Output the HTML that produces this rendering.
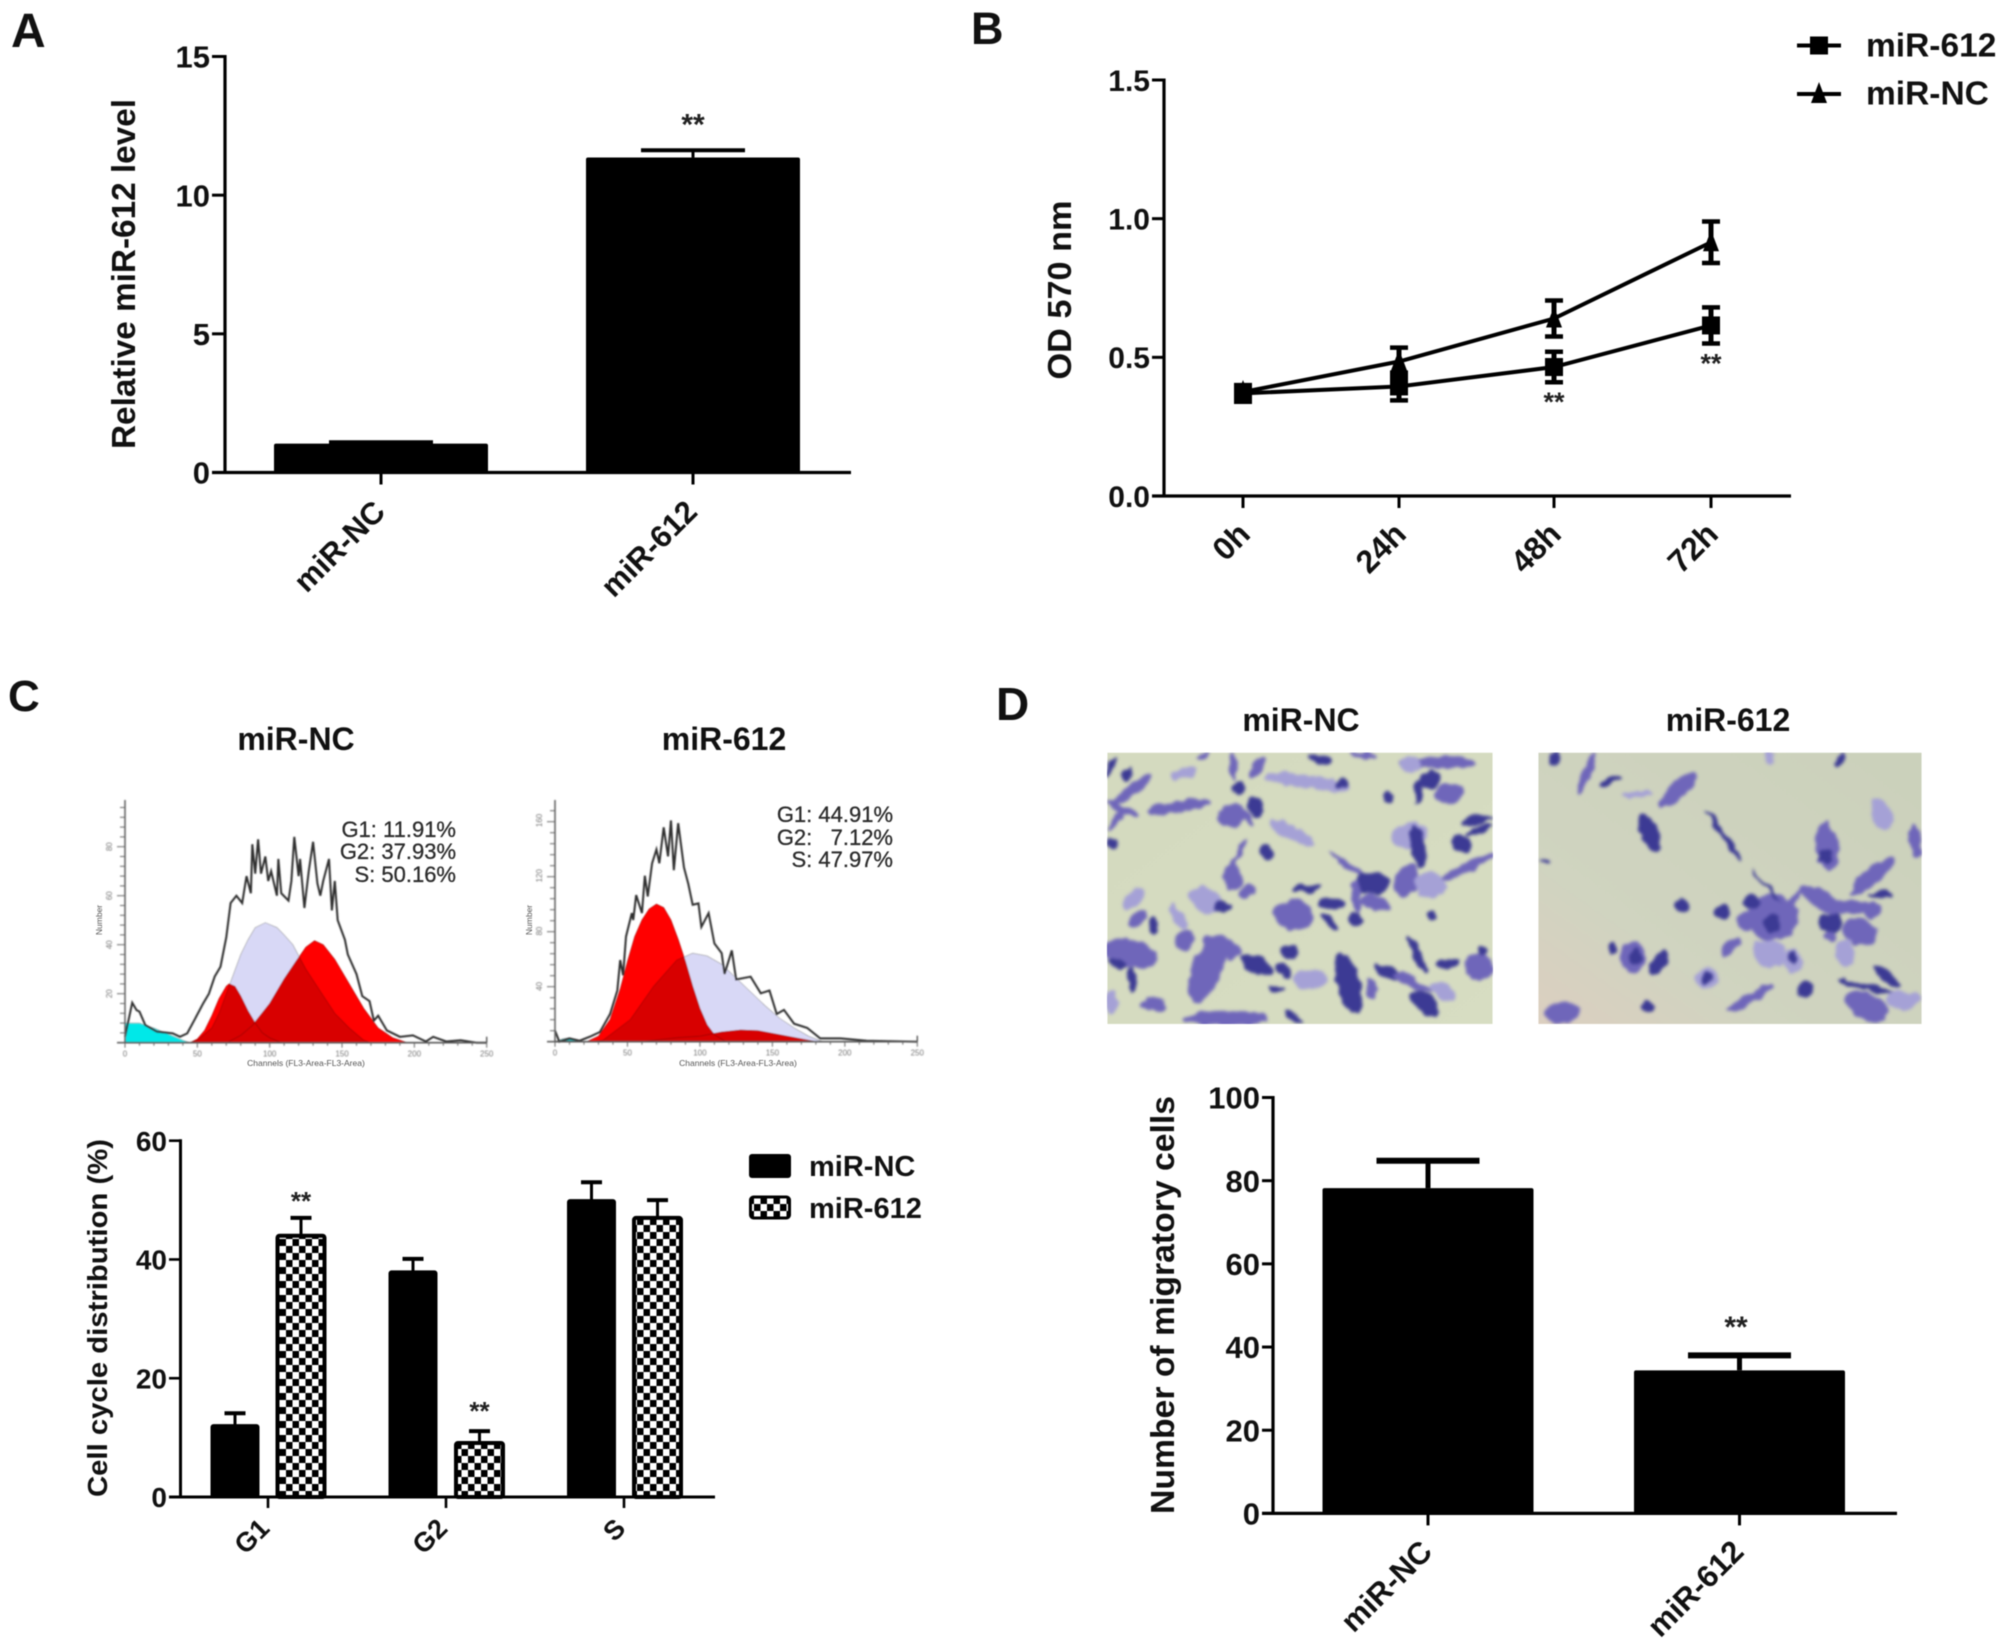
<!DOCTYPE html>
<html lang="en">
<head>
<meta charset="utf-8">
<title>miR-612 figure</title>
<style>
html,body{margin:0;padding:0;background:#fff;}
#figure{display:block;width:2008px;height:1646px;font-family:"Liberation Sans",sans-serif;filter:blur(0.45px);}
text{font-family:"Liberation Sans",sans-serif;}
.b{font-weight:bold;fill:#111;}
</style>
</head>
<body>
<svg id="figure" xmlns="http://www.w3.org/2000/svg" width="2008" height="1646" viewBox="0 0 2008 1646">
<defs>
<pattern id="checker" width="13" height="14" patternUnits="userSpaceOnUse">
<rect width="13" height="14" fill="#fff"/>
<rect width="6.5" height="7" fill="#000"/>
<rect x="6.5" y="7" width="6.5" height="7" fill="#000"/>
</pattern>
<filter id="photoBlur" x="-5%" y="-5%" width="110%" height="110%" color-interpolation-filters="sRGB">
<feTurbulence type="fractalNoise" baseFrequency="0.028" numOctaves="2" seed="7" result="noise"/>
<feDisplacementMap in="SourceGraphic" in2="noise" scale="26" xChannelSelector="R" yChannelSelector="G" result="rough"/>
<feGaussianBlur in="rough" stdDeviation="4.5"/>
</filter>
<filter id="flowBlur" x="-5%" y="-5%" width="110%" height="110%"><feGaussianBlur stdDeviation="0.5"/></filter>
<clipPath id="clip1"><rect x="52" y="38" width="1156" height="814"/></clipPath>
<clipPath id="clip2"><rect x="55" y="38" width="1150" height="814"/></clipPath>
<linearGradient id="bg2" x1="1" y1="0" x2="0" y2="1">
<stop offset="0" stop-color="#cbd1bb"/><stop offset="0.7" stop-color="#d0d4c0"/><stop offset="1" stop-color="#dccfc0"/>
</linearGradient>
<linearGradient id="bg1" x1="0" y1="0" x2="1" y2="1">
<stop offset="0" stop-color="#d4dabf"/><stop offset="1" stop-color="#d7ddc2"/>
</linearGradient>
</defs>

<!-- panel letters -->
<text class="b" x="11" y="47" font-size="48">A</text>
<text class="b" x="971" y="44" font-size="45">B</text>
<text class="b" x="8" y="711" font-size="44">C</text>
<text class="b" x="996" y="720" font-size="46">D</text>

<!-- axis titles -->
<text class="b" transform="translate(135,274) rotate(-90)" text-anchor="middle" font-size="33" textLength="350" lengthAdjust="spacingAndGlyphs">Relative miR-612 level</text>
<text class="b" transform="translate(1071,290) rotate(-90)" text-anchor="middle" font-size="33" textLength="179" lengthAdjust="spacingAndGlyphs">OD 570 nm</text>
<text class="b" transform="translate(107,1318) rotate(-90)" text-anchor="middle" font-size="28" textLength="358" lengthAdjust="spacingAndGlyphs">Cell cycle distribution (%)</text>
<text class="b" transform="translate(1174,1305) rotate(-90)" text-anchor="middle" font-size="33" textLength="418" lengthAdjust="spacingAndGlyphs">Number of migratory cells</text>

<!-- sub titles -->
<text class="b" x="296" y="750" text-anchor="middle" font-size="32">miR-NC</text>
<text class="b" x="724" y="750" text-anchor="middle" font-size="32">miR-612</text>
<text class="b" x="1301" y="731" text-anchor="middle" font-size="32">miR-NC</text>
<text class="b" x="1728" y="731" text-anchor="middle" font-size="32">miR-612</text>

<!-- flow plot annotations -->
<g font-size="22" fill="#2c2c2c" stroke="#2c2c2c" stroke-width="0.3" text-anchor="end">
<text x="456" y="837">G1: 11.91%</text>
<text x="456" y="859">G2: 37.93%</text>
<text x="456" y="882">S: 50.16%</text>
</g>
<g font-size="22" fill="#2c2c2c" stroke="#2c2c2c" stroke-width="0.3" text-anchor="end">
<text x="893" y="822">G1: 44.91%</text>
<text x="893" y="845">G2: &#160;&#160;7.12%</text>
<text x="893" y="867">S: 47.97%</text>
</g>
<g font-size="8.5" fill="#555">
<text x="306" y="1066" text-anchor="middle">Channels (FL3-Area-FL3-Area)</text>
<text x="738" y="1066" text-anchor="middle">Channels (FL3-Area-FL3-Area)</text>
<text transform="translate(102,920) rotate(-90)" text-anchor="middle">Number</text>
<text transform="translate(532,920) rotate(-90)" text-anchor="middle">Number</text>
</g>

<g id="layer"></g>
</svg>

<script>
// ---------- Panel A ----------
const aCategories = ['miR-NC', 'miR-612'];
const aValues = [1.04, 11.36];
const aErrors = [0.05, 0.26];
const aTicks = [0, 5, 10, 15];

// ---------- Panel B ----------
const bTimes = ['0h', '24h', '48h', '72h'];
const bMir612 = [0.37, 0.395, 0.465, 0.615];
const bMir612Err = [0.03, 0.05, 0.055, 0.065];
const bMirNC = [0.375, 0.485, 0.64, 0.915];
const bMirNCErr = [0.02, 0.05, 0.065, 0.075];
const bTicks = ['0.0', '0.5', '1.0', '1.5'];

// ---------- Panel C bars ----------
const cCategories = ['G1', 'G2', 'S'];
const cMirNC = [12.1, 38, 50];
const cMirNCErr = [2, 2.1, 3];
const cMir612 = [44, 9.1, 47];
const cMir612Err = [3, 2, 3];
const cTicks = [0, 20, 40, 60];

// ---------- Panel D bars ----------
const dCategories = ['miR-NC', 'miR-612'];
const dValues = [78.2, 34.4];
const dErrors = [6.6, 3.6];
const dTicks = [0, 20, 40, 60, 80, 100];

// ---------- Flow histogram, miR-NC ----------
const flowNCChannels = [0,5,8,10,14,22,33,38,43,48,54,58,62,66,70,73,77,81,84,87,88,90,92,94,97,99,101,105,106,108,113,115,117,120,121,124,127,130,133,135,137,141,143,145,147,152,154,160,164,169,172,175,181,190,199,208,213,222,232,243,250];
const flowNCCounts = [2.4,16.3,13.3,12.7,7.2,4.5,3.8,2.4,3.8,9.3,16,20,27,31,43,57,60,57,68,61,81,69,83,69,76,66,70,60,75,61,58,66,84,68,75,55,70,82,65,60,66,75,54,66,50,42,36,28,19,17,9,11,5,2.4,3,0.5,2.4,0.5,1,0,0];
const flowNCG1Ch = [45,50,55,60,65,70,72,76,80,85,90,95,100,108];
const flowNCG1 = [0,1.5,5,11,18,23,24,23,19,13,8,4,2,0];
const flowNCSCh = [45,50,60,65,70,75,80,85,90,97,105,110,116,125,135,145,155,165,170];
const flowNCS = [0,1,6,12,20,28,36,42,47,49,47,44,40,30,21,12,6,1,0];
const flowNCG2Ch = [72,80,88,92,100,110,118,125,131,137,145,155,165,175,185,195];
const flowNCG2 = [0.5,3,7,10,16,26,33,39,41.6,40,34,24,14,6,2,0];
const flowNCDebrisCh = [0,10,20,30,40,45];
const flowNCDebris = [8,8,6,3.5,1,0];
const flowNCYLabels = [20,40,60,80];

// ---------- Flow histogram, miR-612 ----------
const flow612Channels = [0,3,10,17,24,31,38,43,45,47,49,53,54,56,60,62,64,67,70,72,75,78,80,82,85,89,92,95,99,101,106,110,115,117,122,125,135,142,148,153,158,165,174,183,197,215,250];
const flow612Counts = [8,0,2.4,0.7,3.6,7,20,37,59,48,76,93,88,106,93,120,105,129,139,129,155,134,160,124,158,126,114,99,100,83,93,71,64,49,66,45,47,35,37,20,23,13,10,2.4,2.4,0.7,0];
const flow612G1Ch = [22,30,38,45,50,55,60,65,70,75,80,85,90,95,100,105,110,118];
const flow612G1 = [0,4,16,38,58,76,88,96,99.5,97,88,74,58,40,24,12,5,0];
const flow612SCh = [25,33,52,68,84,95,105,115,125,135,145,155,165,175,185];
const flow612S = [0,1,16,40,59,64,62,56,46,36,26,17,10,4,0];
const flow612G2Ch = [60,85,100,115,128,140,150,165,180];
const flow612G2 = [0,3,4,7,8.4,8,6,3,0];
const flow612DebrisCh = [0,5,10,15,20];
const flow612Debris = [0,2,3,1,0];
const flow612YLabels = [40,80,120,160];

// ---------- Micrograph illustration shapes: [cx, cy, rx, ry, angle, tone] ----------
const cellsNC = [[125,150,75,13,-38,'n'],[265,200,90,14,-10,'n'],[100,210,50,10,25,'n'],[80,240,40,10,-55,'n'],[280,100,40,15,-15,'l'],[110,105,15,18,0,'d'],[430,80,40,10,90,'n'],[500,85,35,14,-55,'n'],[445,145,20,15,0,'d'],[495,200,22,27,0,'d'],[425,230,40,30,-20,'n'],[465,225,40,8,55,'n'],[650,125,120,18,8,'l'],[755,130,18,12,0,'d'],[690,58,35,12,15,'d'],[895,170,18,18,0,'d'],[1020,120,30,25,0,'d'],[985,155,12,30,0,'d'],[1080,160,45,25,-15,'n'],[1040,68,110,15,0,'n'],[960,70,30,22,0,'l'],[1160,240,45,14,-10,'d'],[1170,270,40,10,-15,'d'],[1115,310,30,25,20,'d'],[960,285,50,35,-10,'l'],[985,320,60,20,80,'d'],[950,420,50,28,-70,'n'],[1020,435,45,35,0,'l'],[1135,380,80,14,-25,'n'],[530,340,20,22,0,'d'],[605,280,70,20,25,'l'],[780,380,70,7,35,'n'],[845,430,50,30,0,'d'],[860,490,45,20,15,'n'],[800,470,50,12,80,'n'],[650,445,40,10,-5,'d'],[725,490,40,15,0,'d'],[610,525,55,40,0,'n'],[720,545,30,12,55,'d'],[795,535,22,15,30,'d'],[1025,525,15,17,0,'d'],[430,410,35,25,80,'n'],[470,455,30,15,-15,'n'],[345,480,50,30,25,'l'],[400,500,25,12,0,'d'],[440,350,55,6,-60,'n'],[130,480,40,18,-40,'l'],[145,535,35,14,-40,'n'],[190,555,25,12,90,'d'],[265,530,40,15,60,'l'],[285,600,30,25,-30,'n'],[120,640,80,35,15,'n'],[80,670,30,10,20,'d'],[125,720,35,12,90,'d'],[350,690,100,38,-70,'n'],[395,620,60,25,20,'n'],[500,675,50,22,25,'d'],[600,635,25,15,0,'d'],[580,690,30,15,50,'d'],[660,720,50,25,0,'l'],[560,745,20,10,15,'d'],[775,730,90,30,75,'d'],[845,745,30,12,80,'n'],[890,695,40,15,25,'d'],[965,725,60,12,25,'n'],[980,640,60,10,65,'d'],[1075,670,35,15,-15,'d'],[1165,680,40,35,0,'n'],[1180,630,15,15,30,'d'],[1060,755,40,20,30,'l'],[1005,790,50,25,40,'d'],[65,785,35,15,90,'l'],[190,795,40,15,5,'n'],[410,835,120,20,0,'n'],[610,830,30,7,40,'d'],[60,80,30,8,-60,'d'],[65,310,15,15,0,'d'],[340,45,20,8,-20,'n'],[820,45,40,7,10,'n']];
const cells612 = [[105,55,15,20,30,'d'],[200,100,65,12,-70,'n'],[270,125,32,9,-25,'d'],[350,162,42,10,-5,'l'],[475,150,70,22,-45,'n'],[748,55,20,12,90,'l'],[960,60,22,10,-70,'d'],[390,280,60,25,70,'d'],[610,285,85,8,55,'d'],[920,320,70,30,85,'n'],[915,350,20,18,0,'d'],[1085,220,45,28,75,'l'],[1185,305,50,14,85,'n'],[1055,410,80,20,-40,'n'],[905,480,70,25,30,'n'],[990,500,60,15,5,'n'],[1085,465,35,8,-5,'d'],[1060,510,25,18,-30,'n'],[930,550,35,25,0,'d'],[930,590,20,12,0,'n'],[1020,575,50,35,10,'n'],[975,640,40,25,80,'l'],[760,530,70,60,0,'n'],[755,555,25,25,0,'d'],[680,545,30,25,0,'n'],[695,487,25,17,0,'d'],[820,480,50,7,-45,'n'],[740,440,65,4,50,'d'],[750,640,50,35,30,'l'],[820,665,28,30,0,'l'],[820,655,15,15,0,'d'],[605,515,22,20,0,'d'],[485,497,22,18,0,'d'],[635,620,35,14,-40,'n'],[340,650,35,40,0,'n'],[345,650,18,20,0,'d'],[278,625,10,15,0,'d'],[415,670,38,20,-60,'d'],[560,712,30,25,0,'l'],[560,712,14,14,0,'d'],[855,748,20,18,0,'d'],[690,775,75,12,-30,'n'],[1100,710,45,14,40,'d'],[1040,740,85,8,15,'d'],[1040,800,65,35,30,'n'],[1150,780,50,25,-5,'l'],[380,800,20,14,15,'d'],[125,820,50,30,-5,'n'],[75,366,20,6,0,'d']];

const NS = 'http://www.w3.org/2000/svg';
const layer = document.getElementById('layer');

function mk(tag, attrs, name, parent) {
  const el = document.createElementNS(NS, tag);
  for (const k in attrs) el.setAttribute(k, attrs[k]);
  
  
  (parent || layer).appendChild(el);
  return el;
}
function txt(str, attrs, name, parent) {
  const el = mk('text', attrs, name, parent);
  el.textContent = str;
  return el;
}
function linear(d0, d1, r0, r1) {
  return function (v) { return r0 + (v - d0) * (r1 - r0) / (d1 - d0); };
}
function axisLines(o) {
  mk('line', {x1: o.x0, y1: o.yTop - 1.5, x2: o.x0, y2: o.yBase + 1.5, stroke: '#000', 'stroke-width': o.w}, o.id + '-y-axis');
  mk('line', {x1: o.tickLeft, y1: o.yBase, x2: o.xEnd, y2: o.yBase, stroke: '#000', 'stroke-width': o.w}, o.id + '-x-axis');
}
function yTicks(id, ticks, y, x0, tickLeft, size, w) {
  ticks.forEach(function (t) {
    const v = parseFloat(t);
    mk('line', {x1: tickLeft, y1: y(v), x2: x0, y2: y(v), stroke: '#000', 'stroke-width': w}, id + '-y-tick');
    txt(String(t), {x: tickLeft - 2, y: y(v) + size * 0.36, 'text-anchor': 'end', 'font-size': size, 'font-weight': 'bold', fill: '#111'}, id + '-y-tick-label');
  });
}
function xTick(id, label, x, yBase, tickLen, size, w, dx, dy) {
  mk('line', {x1: x, y1: yBase, x2: x, y2: yBase + tickLen, stroke: '#000', 'stroke-width': w}, id + '-x-tick');
  const lx = x + dx, ly = yBase + dy;
  txt(label, {x: lx, y: ly, transform: 'rotate(-45 ' + lx + ' ' + ly + ')', 'text-anchor': 'end', 'font-size': size, 'font-weight': 'bold', fill: '#111'}, id + '-x-tick-label');
}
function errBar(id, x, yVal, yTop, capW, w) {
  mk('line', {x1: x, y1: yVal, x2: x, y2: yTop, stroke: '#000', 'stroke-width': w}, id + '-error-stem');
  mk('line', {x1: x - capW / 2, y1: yTop, x2: x + capW / 2, y2: yTop, stroke: '#000', 'stroke-width': w + 1}, id + '-error-cap');
}
function stars(id, x, yCenter, size) {
  txt('**', {x: x, y: yCenter + size * 0.46, 'text-anchor': 'middle', 'font-size': size, 'font-weight': 'bold', fill: '#222'}, id);
}

// ===== Panel A =====
(function () {
  const y = linear(0, 15, 472.5, 56.5);
  const centers = [381, 693];
  const barW = 214;
  axisLines({id: 'a', x0: 225, yTop: y(15), yBase: y(0), tickLeft: 212, xEnd: 851, w: 3.2});
  yTicks('a', aTicks, y, 225, 212, 31, 3);
  aCategories.forEach(function (c, i) {
    errBar('a-' + c, centers[i], y(aValues[i]), y(aValues[i] + aErrors[i]), 104, 3);
    mk('rect', {x: centers[i] - barW / 2, y: y(aValues[i]), width: barW, height: y(0) - y(aValues[i]), rx: 2, fill: '#000'}, 'a-bar-' + c);
    xTick('a', c, centers[i], y(0), 12, 31, 3, 6, 41);
  });
  stars('a-significance', centers[1], 120.5, 30);
})();

// ===== Panel B =====
(function () {
  const y = linear(0, 1.5, 496, 80);
  const xs = [1243, 1399, 1554, 1711];
  axisLines({id: 'b', x0: 1164, yTop: y(1.5), yBase: y(0), tickLeft: 1152, xEnd: 1791, w: 3.2});
  yTicks('b', bTicks, y, 1164, 1152, 30, 3);
  bTimes.forEach(function (t, i) { xTick('b', t, xs[i], y(0), 12, 32, 3, 9, 40); });
  function series(id, vals, errs, marker) {
    mk('polyline', {points: vals.map(function (v, i) { return xs[i] + ',' + y(v); }).join(' '), fill: 'none', stroke: '#000', 'stroke-width': 4}, id + '-line');
    vals.forEach(function (v, i) {
      const yt = y(v + errs[i]), yb = y(v - errs[i]);
      mk('line', {x1: xs[i], y1: yt, x2: xs[i], y2: yb, stroke: '#000', 'stroke-width': 5}, id + '-error-bar');
      mk('line', {x1: xs[i] - 9, y1: yt, x2: xs[i] + 9, y2: yt, stroke: '#000', 'stroke-width': 4.5}, id + '-error-cap');
      mk('line', {x1: xs[i] - 9, y1: yb, x2: xs[i] + 9, y2: yb, stroke: '#000', 'stroke-width': 4.5}, id + '-error-cap');
      marker(xs[i], y(v), id);
    });
  }
  function tri(x, yy, id) {
    mk('polygon', {points: (x - 8) + ',' + (yy + 9) + ' ' + (x + 8) + ',' + (yy + 9) + ' ' + x + ',' + (yy - 12), fill: '#000'}, id + '-marker');
  }
  function sq(x, yy, id) {
    mk('rect', {x: x - 9, y: yy - 9, width: 18, height: 18, fill: '#000'}, id + '-marker');
  }
  series('mir-nc', bMirNC, bMirNCErr, tri);
  series('mir-612', bMir612, bMir612Err, sq);
  stars('b-significance-48h', xs[2], 398.5, 27);
  stars('b-significance-72h', xs[3], 360, 27);
  // legend
  mk('line', {x1: 1797, y1: 45.5, x2: 1841, y2: 45.5, stroke: '#000', 'stroke-width': 4}, 'b-legend-line-mir-612');
  sq(1819, 45.5, 'b-legend');
  txt('miR-612', {x: 1866, y: 56.5, 'font-size': 33.5, 'font-weight': 'bold', fill: '#111'}, 'b-legend-label-mir-612');
  mk('line', {x1: 1797, y1: 94, x2: 1841, y2: 94, stroke: '#000', 'stroke-width': 4}, 'b-legend-line-mir-nc');
  tri(1819, 94, 'b-legend');
  txt('miR-NC', {x: 1866, y: 104.5, 'font-size': 33.5, 'font-weight': 'bold', fill: '#111'}, 'b-legend-label-mir-nc');
})();

// ===== Panel C bars =====
(function () {
  const y = linear(0, 60, 1497, 1140.7);
  const ncX = [235, 413, 591.5];
  const m612X = [301, 479.5, 657.5];
  const tickX = [268, 446, 624];
  const barW = 47;
  axisLines({id: 'c', x0: 180.5, yTop: y(60), yBase: y(0), tickLeft: 169, xEnd: 715, w: 3});
  yTicks('c', cTicks, y, 180.5, 169, 28, 2.6);
  cCategories.forEach(function (c, i) {
    errBar('c-nc-' + c, ncX[i], y(cMirNC[i]), y(cMirNC[i] + cMirNCErr[i]), 21, 3);
    mk('rect', {x: ncX[i] - barW / 2, y: y(cMirNC[i]), width: barW, height: y(0) - y(cMirNC[i]), rx: 2, fill: '#000', stroke: '#000', 'stroke-width': 2}, 'c-bar-mir-nc-' + c);
    errBar('c-612-' + c, m612X[i], y(cMir612[i]), y(cMir612[i] + cMir612Err[i]), 21, 3);
    mk('rect', {x: m612X[i] - barW / 2, y: y(cMir612[i]), width: barW, height: y(0) - y(cMir612[i]), rx: 2, fill: 'url(#checker)', stroke: '#000', 'stroke-width': 4}, 'c-bar-mir-612-' + c);
    xTick('c', c, tickX[i], y(0), 11, 27, 2.6, 3, 33);
  });
  stars('c-significance-g1', m612X[0], 1198, 26);
  stars('c-significance-g2', m612X[1], 1408, 26);
  mk('rect', {x: 749, y: 1154, width: 42, height: 24, rx: 3, fill: '#000'}, 'c-legend-swatch-mir-nc');
  txt('miR-NC', {x: 809, y: 1176, 'font-size': 29, 'font-weight': 'bold', fill: '#111'}, 'c-legend-label-mir-nc');
  mk('rect', {x: 750.5, y: 1197, width: 39, height: 21, rx: 3, fill: 'url(#checker)', stroke: '#000', 'stroke-width': 3}, 'c-legend-swatch-mir-612');
  txt('miR-612', {x: 809, y: 1218, 'font-size': 29, 'font-weight': 'bold', fill: '#111'}, 'c-legend-label-mir-612');
})();

// ===== Panel D bars =====
(function () {
  const y = linear(0, 100, 1513.4, 1097.5);
  const centers = [1428, 1739.5];
  const barW = 211;
  axisLines({id: 'd', x0: 1273, yTop: y(100), yBase: y(0), tickLeft: 1262, xEnd: 1897, w: 3.2});
  yTicks('d', dTicks, y, 1273, 1262, 31, 3);
  dCategories.forEach(function (c, i) {
    errBar('d-' + c, centers[i], y(dValues[i]), y(dValues[i] + dErrors[i]), 103, 5);
    mk('rect', {x: centers[i] - barW / 2, y: y(dValues[i]), width: barW, height: y(0) - y(dValues[i]), rx: 2, fill: '#000'}, 'd-bar-' + c);
    xTick('d', c, centers[i], y(0), 12, 31, 3, 6, 40);
  });
  stars('d-significance', 1736, 1323, 30);
})();

// ===== Flow histograms =====
function drawFlow(o) {
  const g = mk('g', {filter: 'url(#flowBlur)'}, o.id + '-histogram');
  const x = linear(0, 250, o.x0, o.x1);
  const y = linear(0, 100, o.yBase, o.yBase - o.pxPerUnit * 100);
  function area(ch, vals, fill, name, blend) {
    const pts = ch.map(function (c, i) { return x(c) + ',' + y(vals[i]); });
    pts.unshift(x(ch[0]) + ',' + y(0));
    pts.push(x(ch[ch.length - 1]) + ',' + y(0));
    const el = mk('polygon', {points: pts.join(' '), fill: fill, stroke: fill === '#ff0000' ? '#aa0000' : '#999', 'stroke-width': 0.6}, name, g);
    if (blend) el.style.mixBlendMode = 'multiply';
  }
  area(o.debrisCh, o.debris, o.debrisColor, o.id + '-debris-area');
  area(o.sCh, o.s, '#d8d8f6', o.id + '-s-phase-area');
  area(o.g2Ch, o.g2, '#ff0000', o.id + '-g2-area', true);
  area(o.g1Ch, o.g1, '#ff0000', o.id + '-g1-area', true);
  mk('polyline', {points: o.channels.map(function (c, i) { return x(c) + ',' + y(o.counts[i]); }).join(' '), fill: 'none', stroke: '#2e2e2e', 'stroke-width': 2}, o.id + '-outline', g);
  // axes
  mk('line', {x1: o.x0, y1: o.yTop, x2: o.x0, y2: o.yBase, stroke: '#666', 'stroke-width': 1.6}, o.id + '-y-axis', g);
  mk('line', {x1: o.x0 - 8, y1: o.yBase, x2: o.x1, y2: o.yBase, stroke: '#555', 'stroke-width': 1.6}, o.id + '-x-axis', g);
  mk('line', {x1: o.x1, y1: o.yBase - 6, x2: o.x1, y2: o.yBase, stroke: '#555', 'stroke-width': 1.4}, o.id + '-x-axis-end', g);
  const xLabels = [0, 50, 100, 150, 200, 250];
  for (let c = 0; c <= 250; c += 10) {
    mk('line', {x1: x(c), y1: o.yBase, x2: x(c), y2: o.yBase + (c % 50 === 0 ? 5 : 3), stroke: '#666', 'stroke-width': 1}, o.id + '-x-tick', g);
  }
  xLabels.forEach(function (c) {
    txt(String(c), {x: x(c), y: o.yBase + 14, 'text-anchor': 'middle', 'font-size': 8, fill: '#777'}, o.id + '-x-tick-label', g);
  });
  for (let yy = o.yBase, n = 0; yy >= o.yTop; yy -= o.minorPx, n++) {
    mk('line', {x1: o.x0 - (n % 5 === 0 ? 8 : 5), y1: yy, x2: o.x0, y2: yy, stroke: '#666', 'stroke-width': 1}, o.id + '-y-tick', g);
  }
  o.yLabels.forEach(function (v) {
    const yy = y(v);
    txt(String(v), {x: o.x0 - 13, y: yy, transform: 'rotate(-90 ' + (o.x0 - 13) + ' ' + yy + ')', 'text-anchor': 'middle', 'font-size': 8, fill: '#777'}, o.id + '-y-tick-label', g);
  });
}
drawFlow({id: 'flow-mir-nc', x0: 125, x1: 486.7, yBase: 1042.7, yTop: 800, pxPerUnit: 2.45, minorPx: 9.8,
  channels: flowNCChannels, counts: flowNCCounts, g1Ch: flowNCG1Ch, g1: flowNCG1, sCh: flowNCSCh, s: flowNCS,
  g2Ch: flowNCG2Ch, g2: flowNCG2, debrisCh: flowNCDebrisCh, debris: flowNCDebris, debrisColor: '#00e8e8', yLabels: flowNCYLabels});
drawFlow({id: 'flow-mir-612', x0: 555, x1: 917.3, yBase: 1041.7, yTop: 800, pxPerUnit: 1.383, minorPx: 11,
  channels: flow612Channels, counts: flow612Counts, g1Ch: flow612G1Ch, g1: flow612G1, sCh: flow612SCh, s: flow612S,
  g2Ch: flow612G2Ch, g2: flow612G2, debrisCh: flow612DebrisCh, debris: flow612Debris, debrisColor: '#22b8b8', yLabels: flow612YLabels});

// ===== Micrographs =====
function drawPhoto(id, ox, oy, rectX, rectY, clip, bg, cells) {
  const g = mk('g', {transform: 'translate(' + ox + ',' + oy + ') scale(0.3333)', 'clip-path': 'url(#' + clip + ')'}, id);
  mk('rect', {x: rectX, y: rectY, width: clip === 'clip1' ? 1156 : 1150, height: 814, fill: bg}, id + '-background', g);
  const inner = mk('g', {filter: 'url(#photoBlur)'}, id + '-cells', g);
  const tones = {n: '#6f66ba', d: '#3c3a94', l: '#a5a1d6'};
  cells.forEach(function (c) {
    mk('ellipse', {cx: c[0], cy: c[1], rx: c[2] * 1.05, ry: c[3] * 1.15, transform: 'rotate(' + c[4] + ' ' + c[0] + ' ' + c[1] + ')', fill: tones[c[5]]}, 'stained-cell', inner);
  });
}
drawPhoto('migration-photo-mir-nc', 1090, 740, 52, 38, 'clip1', 'url(#bg1)', cellsNC);
drawPhoto('migration-photo-mir-612', 1520, 740, 55, 38, 'clip2', 'url(#bg2)', cells612);
</script>
</body>
</html>
